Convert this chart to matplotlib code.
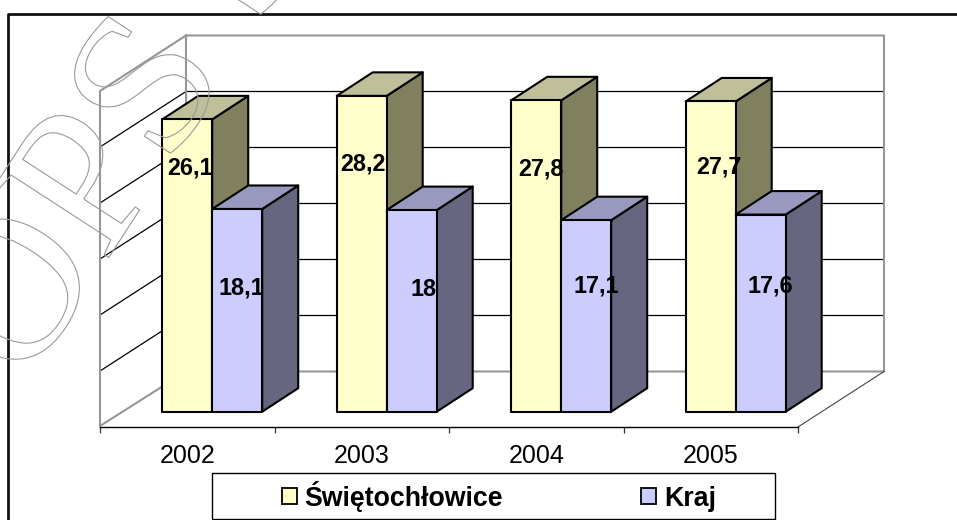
import matplotlib
matplotlib.use('Agg')
import matplotlib.pyplot as plt
from matplotlib.patches import Patch, Polygon, Rectangle
import matplotlib.patheffects as pe

# data
years = ['2002', '2003', '2004', '2005']
swietochlowice = [26.1, 28.2, 27.8, 27.7]
kraj = [18.1, 18, 17.1, 17.6]
y_ticks = [0, 5, 10, 15, 20, 25, 30]

# label centres, pixels
sw_label_pos = [(190, 168), (363, 164), (541, 169), (719, 167)]
kr_label_pos = [(241, 288), (424, 290), (596, 286), (770, 286)]

# geometry, pixels
W, H = 957, 520
PX_PER_UNIT = 11.2
BAR_BASE = 411.7
AXIS_LEFT = 100
SLOT = 174.5
BAR_LEFT = 162.2
BAR_W = 50
BAR_DX, BAR_DY = 36, 23.5
WALL_DX, WALL_DY = 86, 55.5
WALL_BASE = 371.5
AXIS_Y = 427

YELLOW = ('#FFFFCC', '#BFBF99', '#80805F')
BLUE = ('#CCCCFF', '#9999BF', '#666680')
GRAY = '#969696'

plt.rcParams['font.family'] = ['Liberation Sans', 'DejaVu Sans']

def yv(py):
    # pixel row -> value units
    return (BAR_BASE - py) / PX_PER_UNIT

fig = plt.figure(figsize=(W / 100, H / 100), dpi=100)
ax = fig.add_axes([0, 0, 1, 1])
ax.set_xlim(0, W)
ax.set_ylim(yv(H), yv(0))
ax.patch.set_visible(False)
for s in ['top', 'left', 'right']:
    ax.spines[s].set_visible(False)
ax.set_yticks([])

# x axis with real ticks
n = len(years)
right = AXIS_LEFT + SLOT * n
ax.spines['bottom'].set_position(('data', yv(AXIS_Y)))
ax.spines['bottom'].set_bounds(AXIS_LEFT, right - 0.5)
ax.spines['bottom'].set_linewidth(1.0)
ax.set_xticks([AXIS_LEFT + SLOT * i for i in range(n + 1)])
ax.set_xticklabels([])
ax.set_xticks([AXIS_LEFT + SLOT * (i + 0.5) for i in range(n)], minor=True)
ax.set_xticklabels(years, minor=True, fontsize=18)
ax.tick_params(axis='x', which='major', length=4.5, width=0.9, color='#333333')
ax.tick_params(axis='x', which='minor', length=0, pad=12)

# outer frame
ax.plot([7.5, 7.5, W], [yv(H), yv(13.5), yv(13.5)], color='#111111', lw=2.0, zorder=1)

# walls, gridlines
wall_l = AXIS_LEFT + WALL_DX
wall_r = right + WALL_DX
for v in y_ticks[1:-1]:
    y_back = yv(WALL_BASE - v * PX_PER_UNIT)
    y_side = y_back - WALL_DY / PX_PER_UNIT
    ax.plot([AXIS_LEFT, wall_l, wall_r], [y_side, y_back, y_back], color='black', lw=0.9, zorder=2)
top_back = yv(WALL_BASE - y_ticks[-1] * PX_PER_UNIT)
base_back = yv(WALL_BASE)
ax.plot([AXIS_LEFT, AXIS_LEFT, wall_l, wall_r, wall_r, wall_l, wall_l],
        [yv(426), yv(91), top_back, top_back, base_back, base_back, top_back],
        color=GRAY, lw=1.5, zorder=2)
ax.plot([AXIS_LEFT, wall_l], [yv(426), base_back], color=GRAY, lw=1.5, zorder=2)
ax.plot([right, wall_r], [yv(AXIS_Y), base_back], color='#444444', lw=0.8, zorder=2)

# 3D bars
def bar3d(x, val, cols, z):
    y0, y1 = 0, val
    d_x, d_y = BAR_DX, BAR_DY / PX_PER_UNIT
    kw = dict(edgecolor='black', lw=1.5, joinstyle='round', zorder=z)
    ax.add_patch(Polygon([(x + BAR_W, y0), (x + BAR_W + d_x, y0 + d_y), (x + BAR_W + d_x, y1 + d_y), (x + BAR_W, y1)], facecolor=cols[2], **kw))
    ax.add_patch(Polygon([(x, y1), (x + d_x, y1 + d_y), (x + BAR_W + d_x, y1 + d_y), (x + BAR_W, y1)], facecolor=cols[1], **kw))
    ax.add_patch(Rectangle((x, y0), BAR_W, val, facecolor=cols[0], **kw))

for i in range(n):
    x = BAR_LEFT + SLOT * i
    bar3d(x, swietochlowice[i], YELLOW, 3)
    bar3d(x + BAR_W, kraj[i], BLUE, 4)

# value labels
for vals, pos in [(swietochlowice, sw_label_pos), (kraj, kr_label_pos)]:
    for v, (px, py) in zip(vals, pos):
        ax.text(px, yv(py), f'{v:g}'.replace('.', ','), fontsize=16.8, fontweight='bold',
                ha='center', va='center', zorder=6)

# legend
ax.add_patch(Rectangle((212, yv(518.5)), 563, (518.5 - 473) / PX_PER_UNIT, facecolor='white',
                       edgecolor='black', lw=1.0, zorder=5))
handles = [Patch(facecolor=YELLOW[0], edgecolor='black', lw=1.3),
           Patch(facecolor=BLUE[0], edgecolor='black', lw=1.3)]
leg = ax.legend(handles, ['Świętochłowice', 'Kraj'], ncol=2, frameon=False,
                loc='center', bbox_to_anchor=(499 / W, 1 - 496 / H),
                prop={'family': 'Liberation Sans', 'weight': 'bold', 'size': 19.3},
                handlelength=0.55, handleheight=0.55, handletextpad=0.3, columnspacing=5.15)
leg.set_zorder(7)

# watermark
ax.text(24, yv(388), 'OPS Ś', family='Liberation Serif', fontsize=148, rotation=57,
        rotation_mode='anchor', color='none', ha='left', va='baseline', zorder=8, clip_on=False,
        path_effects=[pe.Stroke(linewidth=0.8, foreground='#9a9a9a')])

plt.savefig('out.png', dpi=100)
plt.close()
